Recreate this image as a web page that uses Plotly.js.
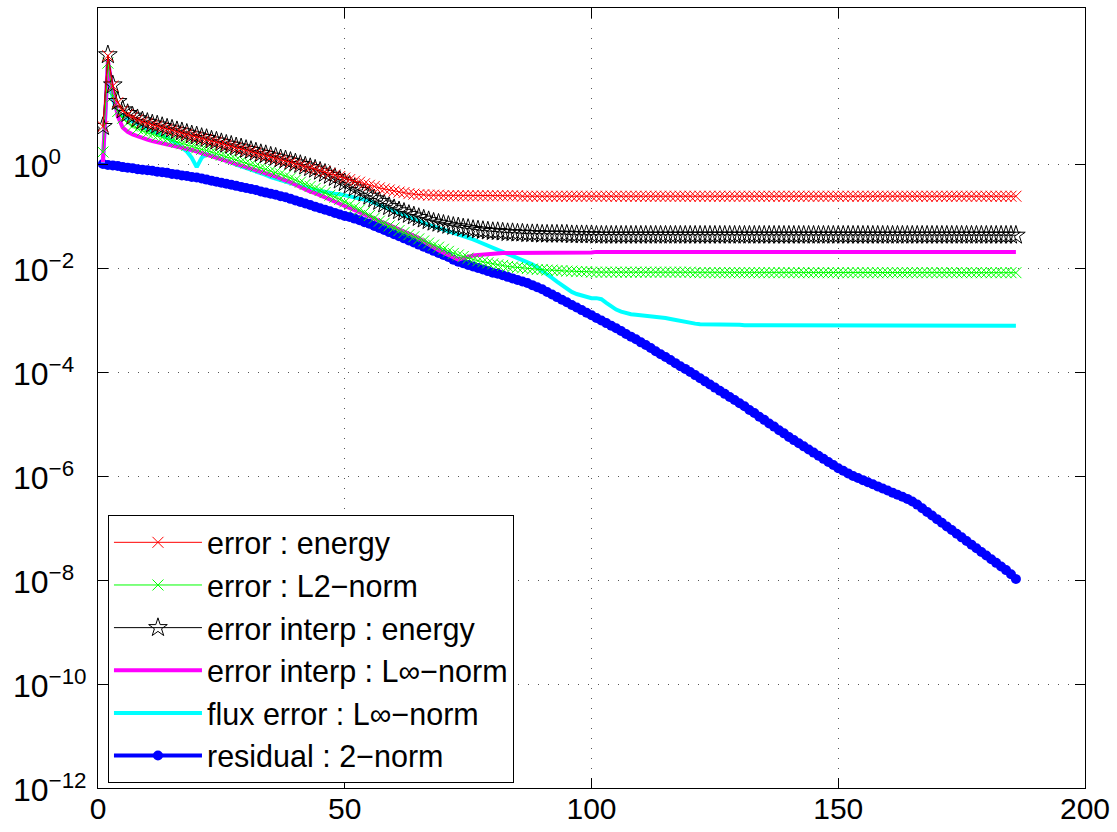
<!DOCTYPE html>
<html><head><meta charset="utf-8">
<script src="https://cdn.plot.ly/plotly-3.0.1.min.js"></script>
<style>html,body{margin:0;padding:0;background:#fff}#chart{width:1117px;height:832px}</style>
</head><body><div id="chart"></div>
<script>
// log10 of each quantity, one value per iteration (iteration 1..186)
const errorEnergyLog = [
 0.72, 2.08, 1.50, 1.18, 1.02, 0.95, 0.90, 0.85, 0.81, 0.78,
 0.75, 0.73, 0.70, 0.67, 0.65, 0.62, 0.60, 0.57, 0.54, 0.52,
 0.49, 0.47, 0.44, 0.42, 0.39, 0.36, 0.34, 0.31, 0.29, 0.26,
 0.24, 0.21, 0.18, 0.16, 0.13, 0.11, 0.08, 0.06, 0.03, 0.00,
 -0.02, -0.05, -0.07, -0.10, -0.13, -0.15, -0.18, -0.21, -0.24, -0.27,
 -0.30, -0.33, -0.35, -0.38, -0.41, -0.43, -0.46, -0.48, -0.50, -0.52,
 -0.54, -0.55, -0.57, -0.58, -0.59, -0.59, -0.60, -0.60, -0.60, -0.61,
 -0.61, -0.61, -0.61, -0.61, -0.61, -0.61, -0.61, -0.61, -0.61, -0.61,
 -0.61, -0.61, -0.61, -0.61, -0.61, -0.62, -0.62, -0.62, -0.62, -0.62,
 -0.62, -0.62, -0.62, -0.62, -0.62, -0.62, -0.62, -0.62, -0.62, -0.62,
 -0.62, -0.62, -0.62, -0.62, -0.62, -0.62, -0.62, -0.62, -0.62, -0.62,
 -0.62, -0.62, -0.62, -0.62, -0.62, -0.62, -0.62, -0.62, -0.62, -0.62,
 -0.62, -0.62, -0.62, -0.62, -0.62, -0.62, -0.62, -0.62, -0.62, -0.62,
 -0.62, -0.62, -0.62, -0.62, -0.62, -0.62, -0.62, -0.62, -0.62, -0.62,
 -0.62, -0.62, -0.62, -0.62, -0.62, -0.62, -0.62, -0.62, -0.62, -0.62,
 -0.62, -0.62, -0.62, -0.62, -0.62, -0.62, -0.62, -0.62, -0.62, -0.62,
 -0.62, -0.62, -0.62, -0.62, -0.62, -0.62, -0.62, -0.62, -0.62, -0.62,
 -0.62, -0.62, -0.62, -0.62, -0.62, -0.62, -0.62, -0.62, -0.62, -0.62,
 -0.62, -0.62, -0.62, -0.62, -0.62, -0.62
];
const errorL2Log = [
 0.23, 1.94, 1.30, 1.01, 0.88, 0.79, 0.73, 0.68, 0.64, 0.60,
 0.57, 0.54, 0.51, 0.48, 0.45, 0.42, 0.39, 0.36, 0.34, 0.31,
 0.28, 0.26, 0.23, 0.20, 0.17, 0.14, 0.11, 0.08, 0.05, 0.02,
 -0.01, -0.04, -0.07, -0.10, -0.13, -0.16, -0.19, -0.23, -0.27, -0.31,
 -0.35, -0.39, -0.43, -0.47, -0.51, -0.55, -0.60, -0.64, -0.68, -0.73,
 -0.78, -0.83, -0.88, -0.93, -0.99, -1.04, -1.10, -1.14, -1.19, -1.23,
 -1.28, -1.32, -1.36, -1.40, -1.44, -1.48, -1.52, -1.56, -1.60, -1.64,
 -1.68, -1.72, -1.75, -1.78, -1.81, -1.84, -1.86, -1.88, -1.90, -1.92,
 -1.94, -1.95, -1.97, -1.98, -1.99, -2.00, -2.01, -2.02, -2.03, -2.03,
 -2.04, -2.04, -2.05, -2.05, -2.06, -2.06, -2.07, -2.07, -2.07, -2.08,
 -2.08, -2.08, -2.08, -2.08, -2.08, -2.08, -2.08, -2.08, -2.08, -2.08,
 -2.08, -2.08, -2.08, -2.08, -2.08, -2.08, -2.08, -2.08, -2.08, -2.08,
 -2.09, -2.09, -2.09, -2.09, -2.09, -2.09, -2.09, -2.09, -2.09, -2.09,
 -2.09, -2.09, -2.09, -2.09, -2.09, -2.09, -2.09, -2.09, -2.09, -2.09,
 -2.09, -2.09, -2.09, -2.09, -2.09, -2.09, -2.09, -2.09, -2.09, -2.09,
 -2.09, -2.09, -2.09, -2.09, -2.09, -2.09, -2.09, -2.09, -2.09, -2.09,
 -2.09, -2.09, -2.09, -2.09, -2.09, -2.09, -2.09, -2.09, -2.09, -2.09,
 -2.09, -2.09, -2.09, -2.09, -2.09, -2.09, -2.09, -2.09, -2.09, -2.09,
 -2.09, -2.09, -2.09, -2.09, -2.09, -2.09
];
const interpEnergyLog = [
 0.72, 2.10, 1.52, 1.20, 1.04, 0.97, 0.92, 0.87, 0.83, 0.80,
 0.77, 0.75, 0.72, 0.69, 0.67, 0.64, 0.62, 0.59, 0.56, 0.54,
 0.51, 0.49, 0.46, 0.44, 0.41, 0.38, 0.36, 0.33, 0.31, 0.28,
 0.26, 0.23, 0.20, 0.18, 0.15, 0.13, 0.10, 0.08, 0.05, 0.02,
 -0.01, -0.04, -0.07, -0.10, -0.14, -0.18, -0.22, -0.26, -0.31, -0.36,
 -0.41, -0.46, -0.51, -0.56, -0.62, -0.67, -0.72, -0.77, -0.82, -0.86,
 -0.90, -0.93, -0.97, -1.00, -1.03, -1.06, -1.09, -1.12, -1.14, -1.16,
 -1.18, -1.20, -1.21, -1.23, -1.24, -1.26, -1.27, -1.28, -1.29, -1.30,
 -1.30, -1.31, -1.32, -1.32, -1.33, -1.33, -1.34, -1.34, -1.34, -1.35,
 -1.35, -1.35, -1.35, -1.35, -1.35, -1.36, -1.36, -1.36, -1.36, -1.36,
 -1.37, -1.37, -1.37, -1.37, -1.37, -1.37, -1.37, -1.37, -1.37, -1.37,
 -1.37, -1.37, -1.37, -1.37, -1.37, -1.37, -1.37, -1.37, -1.37, -1.37,
 -1.37, -1.37, -1.37, -1.37, -1.37, -1.37, -1.37, -1.37, -1.37, -1.37,
 -1.37, -1.37, -1.37, -1.37, -1.37, -1.37, -1.37, -1.37, -1.37, -1.37,
 -1.37, -1.37, -1.37, -1.37, -1.37, -1.37, -1.37, -1.37, -1.37, -1.37,
 -1.37, -1.37, -1.37, -1.37, -1.37, -1.37, -1.37, -1.37, -1.37, -1.37,
 -1.37, -1.37, -1.37, -1.37, -1.37, -1.37, -1.37, -1.37, -1.37, -1.37,
 -1.37, -1.37, -1.37, -1.37, -1.37, -1.37, -1.37, -1.37, -1.37, -1.37,
 -1.37, -1.37, -1.37, -1.37, -1.37, -1.37
];
const interpLinfLog = [
 0.03, 2.00, 1.40, 0.92, 0.70, 0.62, 0.57, 0.53, 0.50, 0.47,
 0.44, 0.42, 0.40, 0.37, 0.35, 0.33, 0.31, 0.29, 0.27, 0.24,
 0.21, 0.19, 0.16, 0.13, 0.10, 0.07, 0.04, 0.01, -0.02, -0.05,
 -0.08, -0.12, -0.15, -0.18, -0.21, -0.24, -0.28, -0.31, -0.35, -0.40,
 -0.45, -0.49, -0.53, -0.56, -0.60, -0.64, -0.68, -0.72, -0.76, -0.80,
 -0.84, -0.88, -0.92, -0.96, -1.00, -1.04, -1.08, -1.12, -1.16, -1.20,
 -1.24, -1.28, -1.33, -1.38, -1.43, -1.48, -1.54, -1.60, -1.66, -1.71,
 -1.76, -1.81, -1.84, -1.81, -1.78, -1.76, -1.75, -1.74, -1.73, -1.72,
 -1.72, -1.71, -1.71, -1.71, -1.70, -1.70, -1.70, -1.70, -1.70, -1.70,
 -1.70, -1.70, -1.70, -1.70, -1.70, -1.70, -1.70, -1.70, -1.70, -1.70,
 -1.69, -1.69, -1.69, -1.69, -1.69, -1.69, -1.69, -1.69, -1.69, -1.69,
 -1.69, -1.69, -1.69, -1.69, -1.69, -1.69, -1.69, -1.69, -1.69, -1.69,
 -1.69, -1.69, -1.69, -1.69, -1.69, -1.69, -1.69, -1.69, -1.69, -1.69,
 -1.69, -1.69, -1.69, -1.69, -1.69, -1.69, -1.69, -1.69, -1.69, -1.69,
 -1.69, -1.69, -1.69, -1.69, -1.69, -1.69, -1.69, -1.69, -1.69, -1.69,
 -1.69, -1.69, -1.69, -1.69, -1.69, -1.69, -1.69, -1.69, -1.69, -1.69,
 -1.69, -1.69, -1.69, -1.69, -1.69, -1.69, -1.69, -1.69, -1.69, -1.69,
 -1.69, -1.69, -1.69, -1.69, -1.69, -1.69, -1.69, -1.69, -1.69, -1.69,
 -1.69, -1.69, -1.69, -1.69, -1.69, -1.69
];
const fluxLinfLog = [
 0.02, 1.90, 1.25, 0.98, 0.92, 0.87, 0.82, 0.76, 0.70, 0.66,
 0.62, 0.60, 0.56, 0.50, 0.45, 0.39, 0.32, 0.24, 0.12, -0.06,
 0.12, 0.19, 0.16, 0.14, 0.10, 0.07, 0.03, -0.01, -0.04, -0.08,
 -0.11, -0.14, -0.18, -0.21, -0.25, -0.28, -0.31, -0.34, -0.37, -0.40,
 -0.43, -0.45, -0.48, -0.50, -0.52, -0.54, -0.56, -0.57, -0.58, -0.60,
 -0.62, -0.64, -0.66, -0.68, -0.71, -0.75, -0.79, -0.83, -0.87, -0.91,
 -0.95, -0.99, -1.03, -1.07, -1.10, -1.14, -1.17, -1.20, -1.23, -1.26,
 -1.29, -1.32, -1.35, -1.38, -1.41, -1.45, -1.49, -1.53, -1.57, -1.61,
 -1.64, -1.68, -1.72, -1.75, -1.79, -1.83, -1.88, -1.93, -1.99, -2.05,
 -2.12, -2.19, -2.26, -2.33, -2.40, -2.46, -2.50, -2.53, -2.56, -2.58,
 -2.58, -2.60, -2.67, -2.74, -2.80, -2.84, -2.87, -2.89, -2.90, -2.91,
 -2.92, -2.92, -2.93, -2.95, -2.96, -2.98, -3.00, -3.02, -3.04, -3.06,
 -3.07, -3.08, -3.08, -3.09, -3.09, -3.09, -3.09, -3.09, -3.09, -3.09,
 -3.10, -3.10, -3.10, -3.10, -3.10, -3.10, -3.10, -3.10, -3.10, -3.10,
 -3.10, -3.10, -3.10, -3.10, -3.10, -3.10, -3.10, -3.10, -3.10, -3.10,
 -3.11, -3.11, -3.11, -3.11, -3.11, -3.11, -3.11, -3.11, -3.11, -3.11,
 -3.11, -3.11, -3.11, -3.11, -3.11, -3.11, -3.11, -3.11, -3.11, -3.11,
 -3.11, -3.11, -3.11, -3.11, -3.11, -3.11, -3.11, -3.11, -3.11, -3.11,
 -3.11, -3.11, -3.11, -3.11, -3.11, -3.11
];
const residualLog = [
 0.00, -0.02, -0.03, -0.04, -0.06, -0.07, -0.08, -0.10, -0.11, -0.12,
 -0.13, -0.15, -0.16, -0.17, -0.19, -0.20, -0.22, -0.23, -0.25, -0.26,
 -0.28, -0.30, -0.32, -0.34, -0.36, -0.38, -0.40, -0.42, -0.44, -0.46,
 -0.48, -0.50, -0.53, -0.55, -0.57, -0.59, -0.62, -0.64, -0.67, -0.70,
 -0.73, -0.76, -0.79, -0.82, -0.85, -0.88, -0.91, -0.94, -0.97, -1.00,
 -1.02, -1.05, -1.08, -1.12, -1.15, -1.19, -1.23, -1.27, -1.31, -1.35,
 -1.39, -1.43, -1.47, -1.51, -1.55, -1.59, -1.63, -1.67, -1.71, -1.75,
 -1.79, -1.84, -1.88, -1.91, -1.94, -1.97, -2.00, -2.03, -2.06, -2.09,
 -2.11, -2.14, -2.17, -2.20, -2.23, -2.26, -2.29, -2.33, -2.37, -2.41,
 -2.46, -2.51, -2.56, -2.61, -2.66, -2.71, -2.76, -2.81, -2.86, -2.91,
 -2.96, -3.01, -3.06, -3.11, -3.16, -3.21, -3.27, -3.32, -3.37, -3.43,
 -3.48, -3.54, -3.60, -3.66, -3.71, -3.77, -3.83, -3.89, -3.94, -4.00,
 -4.06, -4.12, -4.18, -4.24, -4.30, -4.36, -4.42, -4.48, -4.54, -4.60,
 -4.66, -4.73, -4.79, -4.86, -4.92, -4.99, -5.05, -5.12, -5.18, -5.25,
 -5.31, -5.37, -5.43, -5.49, -5.55, -5.61, -5.67, -5.73, -5.79, -5.85,
 -5.90, -5.95, -6.00, -6.04, -6.08, -6.12, -6.16, -6.20, -6.24, -6.28,
 -6.32, -6.36, -6.40, -6.44, -6.49, -6.55, -6.62, -6.69, -6.76, -6.83,
 -6.90, -6.97, -7.04, -7.11, -7.18, -7.25, -7.32, -7.39, -7.46, -7.53,
 -7.60, -7.67, -7.74, -7.81, -7.89, -7.98
];

const seriesNames = [
  'error : energy',
  'error : L2\u2212norm',
  'error interp : energy',
  'error interp : L\u221e\u2212norm',
  'flux error : L\u221e\u2212norm',
  'residual : 2\u2212norm'
];
const xTickValues = [0, 50, 100, 150, 200];
const yTickExponents = [-12, -10, -8, -6, -4, -2, 0];

const toValues = a => a.map(e => Math.pow(10, e));
const iterations = errorEnergyLog.map((_, i) => i + 1);

const FONT = 'Liberation Sans, Arial, Helvetica, sans-serif';
const TICK_SIZE = 32;

const traces = [
  { name: seriesNames[5], y: toValues(residualLog), mode: 'lines+markers',
    line: {color: '#0000ff', width: 4}, marker: {symbol: 'circle', size: 10, color: '#0000ff'}, legendrank: 6 },
  { name: seriesNames[4], y: toValues(fluxLinfLog), mode: 'lines',
    line: {color: '#00ffff', width: 4}, legendrank: 5 },
  { name: seriesNames[3], y: toValues(interpLinfLog), mode: 'lines',
    line: {color: '#ff00ff', width: 4}, legendrank: 4 },
  { name: seriesNames[1], y: toValues(errorL2Log), mode: 'lines+markers',
    line: {color: '#00ff00', width: 1}, marker: {symbol: 'x-thin-open', size: 11, color: '#00ff00', line: {color: '#00ff00', width: 1}}, legendrank: 2 },
  { name: seriesNames[2], y: toValues(interpEnergyLog), mode: 'lines+markers',
    line: {color: '#000000', width: 1}, marker: {symbol: 'star-open', size: 14, color: '#000000', line: {color: '#000000', width: 1}}, legendrank: 3 },
  { name: seriesNames[0], y: toValues(errorEnergyLog), mode: 'lines+markers',
    line: {color: '#ff0000', width: 1}, marker: {symbol: 'x-thin-open', size: 11, color: '#ff0000', line: {color: '#ff0000', width: 1}}, legendrank: 1 }
].map((t, i) => Object.assign({x: iterations, type: 'scatter', legendgroup: 'g' + i, hoverinfo: 'skip'}, t));

const axisCommon = {
  ticks: 'inside', ticklen: 10, tickwidth: 1, tickcolor: '#000',
  showline: true, linecolor: '#000', linewidth: 1, mirror: 'ticks',
  showgrid: true, gridcolor: '#555', gridwidth: 1, griddash: '1px,9px',
  zeroline: false
};

const layout = {
  width: 1117, height: 832,
  margin: {l: 98, r: 32, t: 8, b: 44, pad: 0},
  paper_bgcolor: '#fff', plot_bgcolor: '#fff',
  font: {family: FONT, size: TICK_SIZE, color: '#000'},
  showlegend: true,
  xaxis: Object.assign({}, axisCommon, {
    range: [0, 200], tickmode: 'array', tickvals: xTickValues,
    ticktext: xTickValues.map(String), tickfont: {family: FONT, size: 30, color: '#000'},
    ticklabelstandoff: -6
  }),
  yaxis: Object.assign({}, axisCommon, {
    type: 'log', range: [-12, 3], tickmode: 'array',
    tickvals: yTickExponents.map(e => Math.pow(10, e)), showticklabels: false
  }),
  legend: {
    x: 0.0101, y: 0.35, xanchor: 'left', yanchor: 'top',
    bordercolor: '#000', borderwidth: 1, bgcolor: '#fff',
    font: {family: FONT, size: 30.5, color: '#000'},
    tracegroupgap: 0, traceorder: 'normal', itemwidth: 88
  },
  annotations: yTickExponents.map(e => ({
    xref: 'paper', yref: 'y', x: -0.0882, y: e,
    xanchor: 'left', yanchor: 'middle', showarrow: false,
    text: '10<sup>' + (e < 0 ? '\u2212' + (-e) : String(e)) + '</sup>',
    font: {family: FONT, size: TICK_SIZE, color: '#000'}
  }))
};

Plotly.newPlot('chart', traces, layout, {displayModeBar: false, staticPlot: true});
</script>
</body></html>
